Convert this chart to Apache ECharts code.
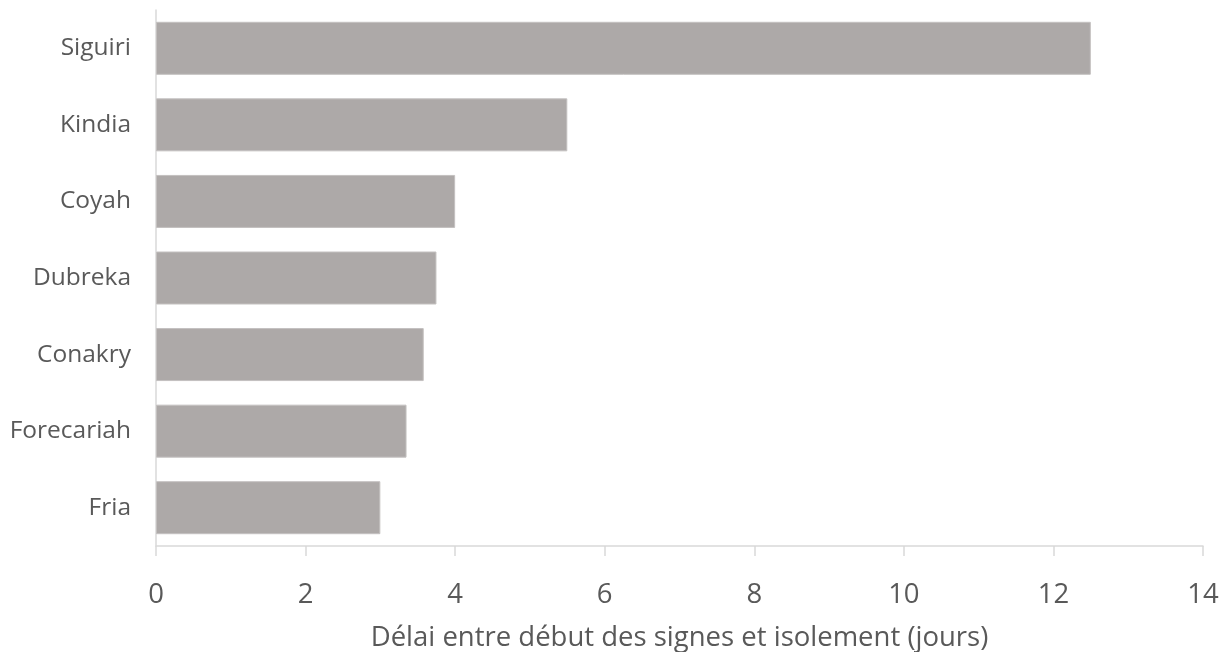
<!DOCTYPE html>
<html><head><meta charset="utf-8">
<script src="https://cdn.jsdelivr.net/npm/echarts@6/dist/echarts.min.js"></script>
<style>html,body{margin:0;padding:0;background:#fff}#c{width:1232px;height:652px}</style>
</head><body><div id="c"></div>
<script>
const categories = ["Fria","Forecariah","Conakry","Dubreka","Coyah","Kindia","Siguiri"];
const values = [3.0, 3.35, 3.58, 3.75, 4.0, 5.5, 12.5];
const chart = echarts.init(document.getElementById('c'));
chart.setOption({
  animation:false,
  grid:{left:156,right:29,top:10,bottom:106,containLabel:false,outerBoundsMode:'none'},
  xAxis:{type:'value',min:0,max:14,interval:2,
    name:'Délai entre début des signes et isolement (jours)',nameLocation:'middle',nameGap:78,
    nameTextStyle:{fontFamily:'Open Sans',fontSize:27.5,color:'#595959'},
    axisLine:{show:true,lineStyle:{color:'#D9D9D9',width:1.5}},
    axisTick:{show:true,length:10,lineStyle:{color:'#D9D9D9',width:1.5}},
    axisLabel:{fontFamily:'Open Sans',fontSize:27.5,color:'#595959',margin:35},
    splitLine:{show:false}},
  yAxis:{type:'category',data:categories,
    axisLine:{show:true,lineStyle:{color:'#D9D9D9',width:1.5}},
    axisTick:{show:false},
    axisLabel:{fontFamily:'Open Sans',fontSize:24.5,color:'#595959',margin:25}},
  series:[{type:'bar',data:values,barWidth:53,
    itemStyle:{color:'#ADA9A8',borderColor:'#C4C1C0',borderWidth:1}}]
});
</script></body></html>
